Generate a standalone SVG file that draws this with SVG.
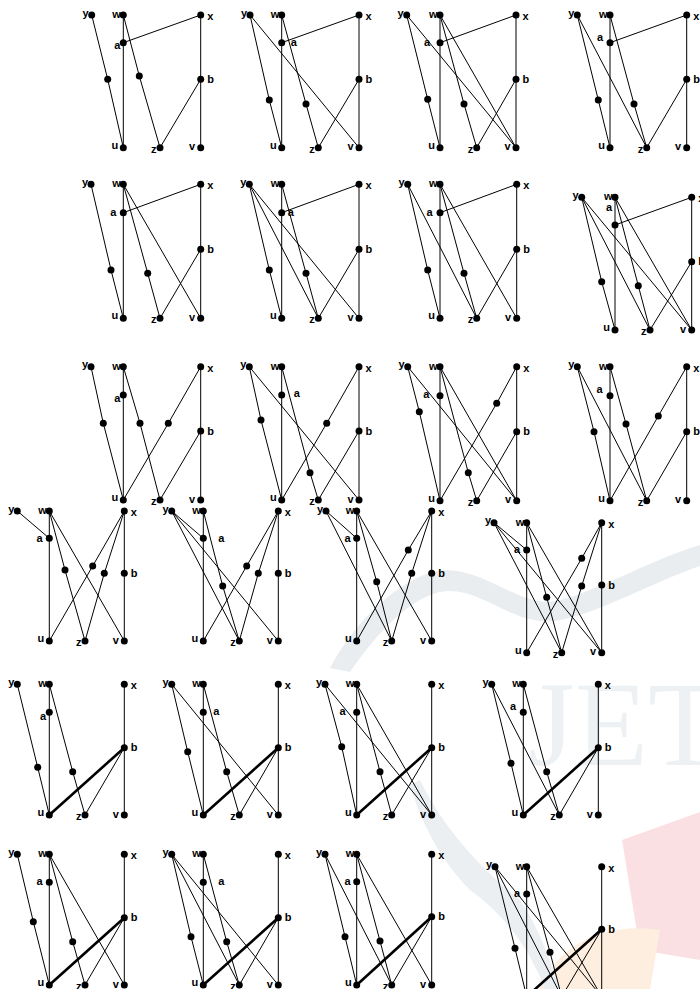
<svg xmlns="http://www.w3.org/2000/svg" width="700" height="989" viewBox="0 0 700 989">
<style>
.e{stroke:#000;stroke-width:1;fill:none}
.k{stroke:#000;stroke-width:2.6;fill:none}
circle{fill:#000}
text{font-family:"Liberation Sans",Arial,sans-serif;font-weight:bold;font-size:11px;fill:#000}
.n{text-anchor:end}
.s{text-anchor:start}
</style>
<rect width="700" height="989" fill="#fff"/>
<g id="watermark">
<path d="M330,668 C350,630 390,585 432,572 C480,560 520,612 560,600 C600,590 650,560 700,545 L700,566 C650,583 600,613 560,620 C515,630 480,584 440,592 C405,600 372,640 350,672 Z" fill="#e9edf0"/>
<text x="528" y="765" style="font-family:'Liberation Serif',serif;font-weight:normal;font-size:120px;fill:#eef1f3">JET</text>
<path d="M622,840 L700,812 L700,960 L640,950 Z" fill="#fbe0e3"/>
<path d="M540,989 C560,940 610,922 660,930 L650,989 Z" fill="#fdeedf"/>
<path d="M420,780 C440,820 470,860 520,900 C540,930 550,960 560,989 L545,989 C530,950 505,915 470,890 C440,860 420,820 410,785 Z" fill="#eceff2"/>
</g>
<g id="connectors">
<g id="e1"><path class="e" d="M91.7,15L107.7,79.3L123.3,147.7M123.3,15V147.7M123.3,42.7L200.7,15M123.3,15L139.3,76L160,147.7M200.7,15V147.7M200.7,79.3L160,147.7"/></g>
<g id="e2"><path class="e" d="M250,15L269.3,100L281.7,147.7M281.7,15V147.7M281.7,42.7L359,15M281.7,15L306,104L318.3,147.7M359,15V147.7M359,79.3L318.3,147.7M250,15L359,147.7"/></g>
<g id="e3"><path class="e" d="M406.7,15L427.7,99.3L440,147.7M440,15V147.7M440,42.7L516,15M440,15L464,104L476.7,147.7M516,15V147.7M516,79.3L476.7,147.7M406.7,15L516,147.7M440,15L516,147.7"/></g>
<g id="e4"><path class="e" d="M577.3,15L598.3,100L610,147.7M610,15V147.7M610,42.7L686.7,15M610,15L634,104L646.7,147.7M686.7,15V147.7M686.7,79.3L646.7,147.7M577.3,15L646.7,147.7"/></g>
<g id="e5"><path class="e" d="M91,184.3L111,270L123.3,318.3M123.3,184.3V318.3M123.3,212.7L200.7,184.3M123.3,184.3L147.7,273.3L160,318.3M200.7,184.3V318.3M200.7,249.3L160,318.3M123.3,184.3L200.7,318.3"/></g>
<g id="e6"><path class="e" d="M249.3,184.3L269.3,270L281.7,318.3M281.7,184.3V318.3M281.7,212.7L359,184.3M281.7,184.3L306,273.3L318.3,318.3M359,184.3V318.3M359,249.3L318.3,318.3M249.3,184.3L318.3,318.3M249.3,184.3L359,318.3"/></g>
<g id="e7"><path class="e" d="M407.7,184.3L427.7,270L440,318.3M440,184.3V318.3M440,212.7L516.7,184.3M440,184.3L464,273.3L476.7,318.3M516.7,184.3V318.3M516.7,249.3L476.7,318.3M407.7,184.3L476.7,318.3M440,184.3L516.7,318.3"/></g>
<g id="e8"><path class="e" d="M581.7,197.3L601.7,281.7L615,330M615,197.3V330M615,225L691.7,197.3M615,197.3L638.3,285.7L650,330M691.7,197.3V330M691.7,261.7L650,330M581.7,197.3L650,330M581.7,197.3L691.7,330M615,197.3L691.7,330"/></g>
<g id="e9"><path class="e" d="M91,366.7L103.3,423.3L123.3,500M123.3,366.7V500M123.3,366.7L140,423.3L160,500M200.7,366.7V500M200.7,431L160,500M200.7,366.7L168.3,423.3L123.3,500"/></g>
<g id="e10"><path class="e" d="M249.3,366.7L261,420L281.7,500M281.7,366.7V500M281.7,366.7L310,472.7L318.3,500M359,366.7V500M359,431L318.3,500M359,366.7L326.7,423.3L281.7,500M249.3,366.7L359,500"/></g>
<g id="e11"><path class="e" d="M407.7,366.7L419.3,411.7L440,500.7M440,366.7V500.7M440,366.7L468.3,472.7L476.7,500.7M516.7,366.7V500.7M516.7,431.7L476.7,500.7M516.7,366.7L496.7,403.3L440,500.7M407.7,366.7L516.7,500.7M440,366.7L516.7,500.7"/></g>
<g id="e12"><path class="e" d="M577.3,366.7L594,431.7L610,500.7M610,366.7V500.7M610,366.7L626,424L646.7,500.7M686.7,366.7V500.7M686.7,431.7L646.7,500.7M686.7,366.7L658.3,416L610,500.7M577.3,366.7L646.7,500.7"/></g>
<g id="e13"><path class="e" d="M17.3,511L49.3,538.3M49.3,511V641M49.3,511L65,570L85,641M49.3,511L124.3,641M124.3,511L92.7,566L49.3,641M124.3,511L104.3,573.3L85,641M124.3,511V641"/></g>
<g id="e14"><path class="e" d="M171.7,511L203.3,538.3M171.7,511L239.3,641M171.7,511L278.3,641M203.3,511V641M203.3,511L222.7,586L239.3,641M278.3,511L246.7,566L203.3,641M278.3,511L258.3,573.3L239.3,641M278.3,511V641"/></g>
<g id="e15"><path class="e" d="M326,511L356.7,538.3M326,511L391.7,641M356.7,511V641M356.7,511L376.7,581.7L391.7,641M356.7,511L431.7,641M431.7,511L408.3,550L356.7,641M431.7,511L411.7,573.3L391.7,641M431.7,511V641"/></g>
<g id="e16"><path class="e" d="M494,522.7L526.7,550M494,522.7L561.7,652.7M494,522.7L601.7,652.7M526.7,522.7V652.7M526.7,522.7L546.7,597.3L561.7,652.7M526.7,522.7L601.7,652.7M601.7,522.7L581.7,558.3L526.7,652.7M601.7,522.7L581.7,586L561.7,652.7M601.7,522.7V652.7"/></g>
<g id="e17"><path class="e" d="M17.3,684.3L37.7,767.3L49.3,815M49.3,684.3V815M49.3,684.3L72.7,771.7L85,815M124.3,684.3V815M124.3,747.7L85,815"/><path class="k" d="M49.3,815L124.3,747.7"/></g>
<g id="e18"><path class="e" d="M171.7,684.3L187.7,751.7L203.3,815M203.3,684.3V815M203.3,684.3L226.7,771.7L239.3,815M278.3,684.3V815M278.3,747.7L239.3,815M171.7,684.3L278.3,815"/><path class="k" d="M203.3,815L278.3,747.7"/></g>
<g id="e19"><path class="e" d="M325,684.3L341.7,746.7L356.7,815M356.7,684.3V815M356.7,684.3L380,771.7L391.7,815M431.7,684.3V815M431.7,747.7L391.7,815M325,684.3L431.7,815M356.7,684.3L431.7,815"/><path class="k" d="M356.7,815L431.7,747.7"/></g>
<g id="e20"><path class="e" d="M491.7,684.3L511,763.3L523.3,815M523.3,684.3V815M523.3,684.3L546.7,771.7L559.3,815M598.3,684.3V815M598.3,747.7L559.3,815M491.7,684.3L559.3,815"/><path class="k" d="M523.3,815L598.3,747.7"/></g>
<g id="e21"><path class="e" d="M17.3,854.3L33.3,921.7L49.3,985M49.3,854.3V985M49.3,854.3L72.7,941.7L85,985M124.3,854.3V985M124.3,917.7L85,985M49.3,854.3L124.3,985"/><path class="k" d="M49.3,985L124.3,917.7"/></g>
<g id="e22"><path class="e" d="M171.7,854.3L191,936.7L203.3,985M203.3,854.3V985M203.3,854.3L226.7,941.7L239.3,985M278.3,854.3V985M278.3,917.7L239.3,985M171.7,854.3L239.3,985M171.7,854.3L278.3,985"/><path class="k" d="M203.3,985L278.3,917.7"/></g>
<g id="e23"><path class="e" d="M325,854.3L345,936.7L356.7,985M356.7,854.3V985M356.7,854.3L380,941L391.7,985M431.7,854.3V985M431.7,916.7L391.7,985M325,854.3L391.7,985M356.7,854.3L431.7,985"/><path class="k" d="M356.7,985L431.7,916.7"/></g>
<g id="e24"><path class="e" d="M495,866.7L515,948.3L526.7,996.7M526.7,866.7V996.7M526.7,866.7L550,952.3L561.7,996.7M601.7,866.7V996.7M601.7,929.3L561.7,996.7M495,866.7L561.7,996.7M495,866.7L601.7,996.7M526.7,866.7L601.7,996.7"/><path class="k" d="M526.7,996.7L601.7,929.3"/></g>
</g>
<g id="nodes">
<g id="g1">
<g id="g1-y"><circle cx="91.7" cy="15" r="3.5"/><text class="n" x="88.7" y="16.5">y</text></g>
<g id="g1-w"><circle cx="123.3" cy="15" r="3.5"/><text class="n" x="120.8" y="18">w</text></g>
<g id="g1-x"><circle cx="200.7" cy="15" r="3.5"/><text class="s" x="207.2" y="20">x</text></g>
<g id="g1-a"><circle cx="123.3" cy="42.7" r="3.5"/><text class="n" x="120.3" y="48.7">a</text></g>
<g id="g1-b"><circle cx="200.7" cy="79.3" r="3.5"/><text class="s" x="207.2" y="82.8">b</text></g>
<g id="g1-u"><circle cx="123.3" cy="147.7" r="3.5"/><text class="n" x="118.3" y="148.7">u</text></g>
<g id="g1-z"><circle cx="160" cy="147.7" r="3.5"/><text class="n" x="156.5" y="152.7">z</text></g>
<g id="g1-v"><circle cx="200.7" cy="147.7" r="3.5"/><text class="n" x="195.2" y="150.2">v</text></g>
<g id="g1-s1"><circle cx="107.7" cy="79.3" r="3.5"/></g>
<g id="g1-s2"><circle cx="139.3" cy="76" r="3.5"/></g>
</g>
<g id="g2">
<g id="g2-y"><circle cx="250" cy="15" r="3.5"/><text class="n" x="247" y="16.5">y</text></g>
<g id="g2-w"><circle cx="281.7" cy="15" r="3.5"/><text class="n" x="279.2" y="18">w</text></g>
<g id="g2-x"><circle cx="359" cy="15" r="3.5"/><text class="s" x="365.5" y="20">x</text></g>
<g id="g2-a"><circle cx="281.7" cy="42.7" r="3.5"/><text class="s" x="290.7" y="45.7">a</text></g>
<g id="g2-b"><circle cx="359" cy="79.3" r="3.5"/><text class="s" x="365.5" y="82.8">b</text></g>
<g id="g2-u"><circle cx="281.7" cy="147.7" r="3.5"/><text class="n" x="276.7" y="148.7">u</text></g>
<g id="g2-z"><circle cx="318.3" cy="147.7" r="3.5"/><text class="n" x="314.8" y="152.7">z</text></g>
<g id="g2-v"><circle cx="359" cy="147.7" r="3.5"/><text class="n" x="353.5" y="150.2">v</text></g>
<g id="g2-s1"><circle cx="269.3" cy="100" r="3.5"/></g>
<g id="g2-s2"><circle cx="306" cy="104" r="3.5"/></g>
</g>
<g id="g3">
<g id="g3-y"><circle cx="406.7" cy="15" r="3.5"/><text class="n" x="403.7" y="16.5">y</text></g>
<g id="g3-w"><circle cx="440" cy="15" r="3.5"/><text class="n" x="437.5" y="18">w</text></g>
<g id="g3-x"><circle cx="516" cy="15" r="3.5"/><text class="s" x="522.5" y="20">x</text></g>
<g id="g3-a"><circle cx="440" cy="42.7" r="3.5"/><text class="n" x="430" y="45.7">a</text></g>
<g id="g3-b"><circle cx="516" cy="79.3" r="3.5"/><text class="s" x="522.5" y="82.8">b</text></g>
<g id="g3-u"><circle cx="440" cy="147.7" r="3.5"/><text class="n" x="435" y="148.7">u</text></g>
<g id="g3-z"><circle cx="476.7" cy="147.7" r="3.5"/><text class="n" x="473.2" y="152.7">z</text></g>
<g id="g3-v"><circle cx="516" cy="147.7" r="3.5"/><text class="n" x="510.5" y="150.2">v</text></g>
<g id="g3-s1"><circle cx="427.7" cy="99.3" r="3.5"/></g>
<g id="g3-s2"><circle cx="464" cy="104" r="3.5"/></g>
</g>
<g id="g4">
<g id="g4-y"><circle cx="577.3" cy="15" r="3.5"/><text class="n" x="574.3" y="16.5">y</text></g>
<g id="g4-w"><circle cx="610" cy="15" r="3.5"/><text class="n" x="607.5" y="18">w</text></g>
<g id="g4-x"><circle cx="686.7" cy="15" r="3.5"/><text class="s" x="693.2" y="20">x</text></g>
<g id="g4-a"><circle cx="610" cy="42.7" r="3.5"/><text class="n" x="603" y="40.7">a</text></g>
<g id="g4-b"><circle cx="686.7" cy="79.3" r="3.5"/><text class="s" x="693.2" y="82.8">b</text></g>
<g id="g4-u"><circle cx="610" cy="147.7" r="3.5"/><text class="n" x="605" y="148.7">u</text></g>
<g id="g4-z"><circle cx="646.7" cy="147.7" r="3.5"/><text class="n" x="643.2" y="152.7">z</text></g>
<g id="g4-v"><circle cx="686.7" cy="147.7" r="3.5"/><text class="n" x="681.2" y="150.2">v</text></g>
<g id="g4-s1"><circle cx="598.3" cy="100" r="3.5"/></g>
<g id="g4-s2"><circle cx="634" cy="104" r="3.5"/></g>
</g>
<g id="g5">
<g id="g5-y"><circle cx="91" cy="184.3" r="3.5"/><text class="n" x="88" y="185.8">y</text></g>
<g id="g5-w"><circle cx="123.3" cy="184.3" r="3.5"/><text class="n" x="120.8" y="187.3">w</text></g>
<g id="g5-x"><circle cx="200.7" cy="184.3" r="3.5"/><text class="s" x="207.2" y="189.3">x</text></g>
<g id="g5-a"><circle cx="123.3" cy="212.7" r="3.5"/><text class="n" x="116.3" y="215.7">a</text></g>
<g id="g5-b"><circle cx="200.7" cy="249.3" r="3.5"/><text class="s" x="207.2" y="252.8">b</text></g>
<g id="g5-u"><circle cx="123.3" cy="318.3" r="3.5"/><text class="n" x="118.3" y="319.3">u</text></g>
<g id="g5-z"><circle cx="160" cy="318.3" r="3.5"/><text class="n" x="156.5" y="323.3">z</text></g>
<g id="g5-v"><circle cx="200.7" cy="318.3" r="3.5"/><text class="n" x="195.2" y="320.8">v</text></g>
<g id="g5-s1"><circle cx="111" cy="270" r="3.5"/></g>
<g id="g5-s2"><circle cx="147.7" cy="273.3" r="3.5"/></g>
</g>
<g id="g6">
<g id="g6-y"><circle cx="249.3" cy="184.3" r="3.5"/><text class="n" x="246.3" y="185.8">y</text></g>
<g id="g6-w"><circle cx="281.7" cy="184.3" r="3.5"/><text class="n" x="279.2" y="187.3">w</text></g>
<g id="g6-x"><circle cx="359" cy="184.3" r="3.5"/><text class="s" x="365.5" y="189.3">x</text></g>
<g id="g6-a"><circle cx="281.7" cy="212.7" r="3.5"/><text class="s" x="287.7" y="215.7">a</text></g>
<g id="g6-b"><circle cx="359" cy="249.3" r="3.5"/><text class="s" x="365.5" y="252.8">b</text></g>
<g id="g6-u"><circle cx="281.7" cy="318.3" r="3.5"/><text class="n" x="276.7" y="319.3">u</text></g>
<g id="g6-z"><circle cx="318.3" cy="318.3" r="3.5"/><text class="n" x="314.8" y="323.3">z</text></g>
<g id="g6-v"><circle cx="359" cy="318.3" r="3.5"/><text class="n" x="353.5" y="320.8">v</text></g>
<g id="g6-s1"><circle cx="269.3" cy="270" r="3.5"/></g>
<g id="g6-s2"><circle cx="306" cy="273.3" r="3.5"/></g>
</g>
<g id="g7">
<g id="g7-y"><circle cx="407.7" cy="184.3" r="3.5"/><text class="n" x="404.7" y="185.8">y</text></g>
<g id="g7-w"><circle cx="440" cy="184.3" r="3.5"/><text class="n" x="437.5" y="187.3">w</text></g>
<g id="g7-x"><circle cx="516.7" cy="184.3" r="3.5"/><text class="s" x="523.2" y="189.3">x</text></g>
<g id="g7-a"><circle cx="440" cy="212.7" r="3.5"/><text class="n" x="432.5" y="215.7">a</text></g>
<g id="g7-b"><circle cx="516.7" cy="249.3" r="3.5"/><text class="s" x="523.2" y="252.8">b</text></g>
<g id="g7-u"><circle cx="440" cy="318.3" r="3.5"/><text class="n" x="435" y="319.3">u</text></g>
<g id="g7-z"><circle cx="476.7" cy="318.3" r="3.5"/><text class="n" x="473.2" y="323.3">z</text></g>
<g id="g7-v"><circle cx="516.7" cy="318.3" r="3.5"/><text class="n" x="511.2" y="320.8">v</text></g>
<g id="g7-s1"><circle cx="427.7" cy="270" r="3.5"/></g>
<g id="g7-s2"><circle cx="464" cy="273.3" r="3.5"/></g>
</g>
<g id="g8">
<g id="g8-y"><circle cx="581.7" cy="197.3" r="3.5"/><text class="n" x="578.7" y="198.8">y</text></g>
<g id="g8-w"><circle cx="615" cy="197.3" r="3.5"/><text class="n" x="612.5" y="200.3">w</text></g>
<g id="g8-x"><circle cx="691.7" cy="197.3" r="3.5"/><text class="s" x="698.2" y="202.3">x</text></g>
<g id="g8-a"><circle cx="615" cy="225" r="3.5"/><text class="n" x="612" y="211">a</text></g>
<g id="g8-b"><circle cx="691.7" cy="261.7" r="3.5"/><text class="s" x="698.2" y="265.2">b</text></g>
<g id="g8-u"><circle cx="615" cy="330" r="3.5"/><text class="n" x="610" y="331">u</text></g>
<g id="g8-z"><circle cx="650" cy="330" r="3.5"/><text class="n" x="646.5" y="335">z</text></g>
<g id="g8-v"><circle cx="691.7" cy="330" r="3.5"/><text class="n" x="686.2" y="332.5">v</text></g>
<g id="g8-s1"><circle cx="601.7" cy="281.7" r="3.5"/></g>
<g id="g8-s2"><circle cx="638.3" cy="285.7" r="3.5"/></g>
</g>
<g id="g9">
<g id="g9-y"><circle cx="91" cy="366.7" r="3.5"/><text class="n" x="88" y="368.2">y</text></g>
<g id="g9-w"><circle cx="123.3" cy="366.7" r="3.5"/><text class="n" x="120.8" y="369.7">w</text></g>
<g id="g9-x"><circle cx="200.7" cy="366.7" r="3.5"/><text class="s" x="207.2" y="371.7">x</text></g>
<g id="g9-a"><circle cx="123.3" cy="395" r="3.5"/><text class="n" x="120.3" y="402">a</text></g>
<g id="g9-b"><circle cx="200.7" cy="431" r="3.5"/><text class="s" x="207.2" y="434.5">b</text></g>
<g id="g9-u"><circle cx="123.3" cy="500" r="3.5"/><text class="n" x="118.3" y="501">u</text></g>
<g id="g9-z"><circle cx="160" cy="500" r="3.5"/><text class="n" x="156.5" y="505">z</text></g>
<g id="g9-v"><circle cx="200.7" cy="500" r="3.5"/><text class="n" x="195.2" y="502.5">v</text></g>
<g id="g9-s1"><circle cx="103.3" cy="423.3" r="3.5"/></g>
<g id="g9-s2"><circle cx="140" cy="423.3" r="3.5"/></g>
<g id="g9-s3"><circle cx="168.3" cy="423.3" r="3.5"/></g>
</g>
<g id="g10">
<g id="g10-y"><circle cx="249.3" cy="366.7" r="3.5"/><text class="n" x="246.3" y="368.2">y</text></g>
<g id="g10-w"><circle cx="281.7" cy="366.7" r="3.5"/><text class="n" x="279.2" y="369.7">w</text></g>
<g id="g10-x"><circle cx="359" cy="366.7" r="3.5"/><text class="s" x="365.5" y="371.7">x</text></g>
<g id="g10-a"><circle cx="281.7" cy="395" r="3.5"/><text class="s" x="293.7" y="397">a</text></g>
<g id="g10-b"><circle cx="359" cy="431" r="3.5"/><text class="s" x="365.5" y="434.5">b</text></g>
<g id="g10-u"><circle cx="281.7" cy="500" r="3.5"/><text class="n" x="276.7" y="501">u</text></g>
<g id="g10-z"><circle cx="318.3" cy="500" r="3.5"/><text class="n" x="314.8" y="505">z</text></g>
<g id="g10-v"><circle cx="359" cy="500" r="3.5"/><text class="n" x="353.5" y="502.5">v</text></g>
<g id="g10-s1"><circle cx="261" cy="420" r="3.5"/></g>
<g id="g10-s2"><circle cx="310" cy="472.7" r="3.5"/></g>
<g id="g10-s3"><circle cx="326.7" cy="423.3" r="3.5"/></g>
</g>
<g id="g11">
<g id="g11-y"><circle cx="407.7" cy="366.7" r="3.5"/><text class="n" x="404.7" y="368.2">y</text></g>
<g id="g11-w"><circle cx="440" cy="366.7" r="3.5"/><text class="n" x="437.5" y="369.7">w</text></g>
<g id="g11-x"><circle cx="516.7" cy="366.7" r="3.5"/><text class="s" x="523.2" y="371.7">x</text></g>
<g id="g11-a"><circle cx="440" cy="395.7" r="3.5"/><text class="n" x="429.3" y="397.7">a</text></g>
<g id="g11-b"><circle cx="516.7" cy="431.7" r="3.5"/><text class="s" x="523.2" y="435.2">b</text></g>
<g id="g11-u"><circle cx="440" cy="500.7" r="3.5"/><text class="n" x="435" y="501.7">u</text></g>
<g id="g11-z"><circle cx="476.7" cy="500.7" r="3.5"/><text class="n" x="473.2" y="505.7">z</text></g>
<g id="g11-v"><circle cx="516.7" cy="500.7" r="3.5"/><text class="n" x="511.2" y="503.2">v</text></g>
<g id="g11-s1"><circle cx="419.3" cy="411.7" r="3.5"/></g>
<g id="g11-s2"><circle cx="468.3" cy="472.7" r="3.5"/></g>
<g id="g11-s3"><circle cx="496.7" cy="403.3" r="3.5"/></g>
</g>
<g id="g12">
<g id="g12-y"><circle cx="577.3" cy="366.7" r="3.5"/><text class="n" x="574.3" y="368.2">y</text></g>
<g id="g12-w"><circle cx="610" cy="366.7" r="3.5"/><text class="n" x="607.5" y="369.7">w</text></g>
<g id="g12-x"><circle cx="686.7" cy="366.7" r="3.5"/><text class="s" x="693.2" y="371.7">x</text></g>
<g id="g12-a"><circle cx="610" cy="395.7" r="3.5"/><text class="n" x="602.7" y="393.4">a</text></g>
<g id="g12-b"><circle cx="686.7" cy="431.7" r="3.5"/><text class="s" x="693.2" y="435.2">b</text></g>
<g id="g12-u"><circle cx="610" cy="500.7" r="3.5"/><text class="n" x="605" y="501.7">u</text></g>
<g id="g12-z"><circle cx="646.7" cy="500.7" r="3.5"/><text class="n" x="643.2" y="505.7">z</text></g>
<g id="g12-v"><circle cx="686.7" cy="500.7" r="3.5"/><text class="n" x="681.2" y="503.2">v</text></g>
<g id="g12-s1"><circle cx="594" cy="431.7" r="3.5"/></g>
<g id="g12-s2"><circle cx="626" cy="424" r="3.5"/></g>
<g id="g12-s3"><circle cx="658.3" cy="416" r="3.5"/></g>
</g>
<g id="g13">
<g id="g13-y"><circle cx="17.3" cy="511" r="3.5"/><text class="n" x="14.3" y="512.5">y</text></g>
<g id="g13-w"><circle cx="49.3" cy="511" r="3.5"/><text class="n" x="46.8" y="514">w</text></g>
<g id="g13-x"><circle cx="124.3" cy="511" r="3.5"/><text class="s" x="130.8" y="516">x</text></g>
<g id="g13-a"><circle cx="49.3" cy="538.3" r="3.5"/><text class="n" x="42.6" y="541.6">a</text></g>
<g id="g13-b"><circle cx="124.3" cy="573.3" r="3.5"/><text class="s" x="130.8" y="576.8">b</text></g>
<g id="g13-u"><circle cx="49.3" cy="641" r="3.5"/><text class="n" x="44.3" y="642">u</text></g>
<g id="g13-z"><circle cx="85" cy="641" r="3.5"/><text class="n" x="81.5" y="646">z</text></g>
<g id="g13-v"><circle cx="124.3" cy="641" r="3.5"/><text class="n" x="118.8" y="643.5">v</text></g>
<g id="g13-s2"><circle cx="65" cy="570" r="3.5"/></g>
<g id="g13-s3"><circle cx="92.7" cy="566" r="3.5"/></g>
<g id="g13-s4"><circle cx="104.3" cy="573.3" r="3.5"/></g>
</g>
<g id="g14">
<g id="g14-y"><circle cx="171.7" cy="511" r="3.5"/><text class="n" x="168.7" y="512.5">y</text></g>
<g id="g14-w"><circle cx="203.3" cy="511" r="3.5"/><text class="n" x="200.8" y="514">w</text></g>
<g id="g14-x"><circle cx="278.3" cy="511" r="3.5"/><text class="s" x="284.8" y="516">x</text></g>
<g id="g14-a"><circle cx="203.3" cy="538.3" r="3.5"/><text class="s" x="218.3" y="541.6">a</text></g>
<g id="g14-b"><circle cx="278.3" cy="573.3" r="3.5"/><text class="s" x="284.8" y="576.8">b</text></g>
<g id="g14-u"><circle cx="203.3" cy="641" r="3.5"/><text class="n" x="198.3" y="642">u</text></g>
<g id="g14-z"><circle cx="239.3" cy="641" r="3.5"/><text class="n" x="235.8" y="646">z</text></g>
<g id="g14-v"><circle cx="278.3" cy="641" r="3.5"/><text class="n" x="272.8" y="643.5">v</text></g>
<g id="g14-s2"><circle cx="222.7" cy="586" r="3.5"/></g>
<g id="g14-s3"><circle cx="246.7" cy="566" r="3.5"/></g>
<g id="g14-s4"><circle cx="258.3" cy="573.3" r="3.5"/></g>
</g>
<g id="g15">
<g id="g15-y"><circle cx="326" cy="511" r="3.5"/><text class="n" x="323" y="512.5">y</text></g>
<g id="g15-w"><circle cx="356.7" cy="511" r="3.5"/><text class="n" x="354.2" y="514">w</text></g>
<g id="g15-x"><circle cx="431.7" cy="511" r="3.5"/><text class="s" x="438.2" y="516">x</text></g>
<g id="g15-a"><circle cx="356.7" cy="538.3" r="3.5"/><text class="n" x="350.7" y="541.6">a</text></g>
<g id="g15-b"><circle cx="431.7" cy="573.3" r="3.5"/><text class="s" x="438.2" y="576.8">b</text></g>
<g id="g15-u"><circle cx="356.7" cy="641" r="3.5"/><text class="n" x="351.7" y="642">u</text></g>
<g id="g15-z"><circle cx="391.7" cy="641" r="3.5"/><text class="n" x="388.2" y="646">z</text></g>
<g id="g15-v"><circle cx="431.7" cy="641" r="3.5"/><text class="n" x="426.2" y="643.5">v</text></g>
<g id="g15-s2"><circle cx="376.7" cy="581.7" r="3.5"/></g>
<g id="g15-s3"><circle cx="408.3" cy="550" r="3.5"/></g>
<g id="g15-s4"><circle cx="411.7" cy="573.3" r="3.5"/></g>
</g>
<g id="g16">
<g id="g16-y"><circle cx="494" cy="522.7" r="3.5"/><text class="n" x="491" y="524.2">y</text></g>
<g id="g16-w"><circle cx="526.7" cy="522.7" r="3.5"/><text class="n" x="524.2" y="525.7">w</text></g>
<g id="g16-x"><circle cx="601.7" cy="522.7" r="3.5"/><text class="s" x="608.2" y="527.7">x</text></g>
<g id="g16-a"><circle cx="526.7" cy="550" r="3.5"/><text class="n" x="520" y="553.3">a</text></g>
<g id="g16-b"><circle cx="601.7" cy="585" r="3.5"/><text class="s" x="608.2" y="588.5">b</text></g>
<g id="g16-u"><circle cx="526.7" cy="652.7" r="3.5"/><text class="n" x="521.7" y="653.7">u</text></g>
<g id="g16-z"><circle cx="561.7" cy="652.7" r="3.5"/><text class="n" x="558.2" y="657.7">z</text></g>
<g id="g16-v"><circle cx="601.7" cy="652.7" r="3.5"/><text class="n" x="596.2" y="655.2">v</text></g>
<g id="g16-s2"><circle cx="546.7" cy="597.3" r="3.5"/></g>
<g id="g16-s3"><circle cx="581.7" cy="558.3" r="3.5"/></g>
<g id="g16-s4"><circle cx="581.7" cy="586" r="3.5"/></g>
</g>
<g id="g17">
<g id="g17-y"><circle cx="17.3" cy="684.3" r="3.5"/><text class="n" x="14.3" y="685.8">y</text></g>
<g id="g17-w"><circle cx="49.3" cy="684.3" r="3.5"/><text class="n" x="46.8" y="687.3">w</text></g>
<g id="g17-x"><circle cx="124.3" cy="684.3" r="3.5"/><text class="s" x="130.8" y="689.3">x</text></g>
<g id="g17-a"><circle cx="49.3" cy="712.3" r="3.5"/><text class="n" x="46" y="720">a</text></g>
<g id="g17-b"><circle cx="124.3" cy="747.7" r="3.5"/><text class="s" x="130.8" y="751.2">b</text></g>
<g id="g17-u"><circle cx="49.3" cy="815" r="3.5"/><text class="n" x="44.3" y="816">u</text></g>
<g id="g17-z"><circle cx="85" cy="815" r="3.5"/><text class="n" x="81.5" y="820">z</text></g>
<g id="g17-v"><circle cx="124.3" cy="815" r="3.5"/><text class="n" x="118.8" y="817.5">v</text></g>
<g id="g17-s1"><circle cx="37.7" cy="767.3" r="3.5"/></g>
<g id="g17-s2"><circle cx="72.7" cy="771.7" r="3.5"/></g>
</g>
<g id="g18">
<g id="g18-y"><circle cx="171.7" cy="684.3" r="3.5"/><text class="n" x="168.7" y="685.8">y</text></g>
<g id="g18-w"><circle cx="203.3" cy="684.3" r="3.5"/><text class="n" x="200.8" y="687.3">w</text></g>
<g id="g18-x"><circle cx="278.3" cy="684.3" r="3.5"/><text class="s" x="284.8" y="689.3">x</text></g>
<g id="g18-a"><circle cx="203.3" cy="712.3" r="3.5"/><text class="s" x="213.3" y="715">a</text></g>
<g id="g18-b"><circle cx="278.3" cy="747.7" r="3.5"/><text class="s" x="284.8" y="751.2">b</text></g>
<g id="g18-u"><circle cx="203.3" cy="815" r="3.5"/><text class="n" x="198.3" y="816">u</text></g>
<g id="g18-z"><circle cx="239.3" cy="815" r="3.5"/><text class="n" x="235.8" y="820">z</text></g>
<g id="g18-v"><circle cx="278.3" cy="815" r="3.5"/><text class="n" x="272.8" y="817.5">v</text></g>
<g id="g18-s1"><circle cx="187.7" cy="751.7" r="3.5"/></g>
<g id="g18-s2"><circle cx="226.7" cy="771.7" r="3.5"/></g>
</g>
<g id="g19">
<g id="g19-y"><circle cx="325" cy="684.3" r="3.5"/><text class="n" x="322" y="685.8">y</text></g>
<g id="g19-w"><circle cx="356.7" cy="684.3" r="3.5"/><text class="n" x="354.2" y="687.3">w</text></g>
<g id="g19-x"><circle cx="431.7" cy="684.3" r="3.5"/><text class="s" x="438.2" y="689.3">x</text></g>
<g id="g19-a"><circle cx="356.7" cy="712.3" r="3.5"/><text class="n" x="345.7" y="715">a</text></g>
<g id="g19-b"><circle cx="431.7" cy="747.7" r="3.5"/><text class="s" x="438.2" y="751.2">b</text></g>
<g id="g19-u"><circle cx="356.7" cy="815" r="3.5"/><text class="n" x="351.7" y="816">u</text></g>
<g id="g19-z"><circle cx="391.7" cy="815" r="3.5"/><text class="n" x="388.2" y="820">z</text></g>
<g id="g19-v"><circle cx="431.7" cy="815" r="3.5"/><text class="n" x="426.2" y="817.5">v</text></g>
<g id="g19-s1"><circle cx="341.7" cy="746.7" r="3.5"/></g>
<g id="g19-s2"><circle cx="380" cy="771.7" r="3.5"/></g>
</g>
<g id="g20">
<g id="g20-y"><circle cx="491.7" cy="684.3" r="3.5"/><text class="n" x="488.7" y="685.8">y</text></g>
<g id="g20-w"><circle cx="523.3" cy="684.3" r="3.5"/><text class="n" x="520.8" y="687.3">w</text></g>
<g id="g20-x"><circle cx="598.3" cy="684.3" r="3.5"/><text class="s" x="604.8" y="689.3">x</text></g>
<g id="g20-a"><circle cx="523.3" cy="712.3" r="3.5"/><text class="n" x="516" y="710">a</text></g>
<g id="g20-b"><circle cx="598.3" cy="747.7" r="3.5"/><text class="s" x="604.8" y="751.2">b</text></g>
<g id="g20-u"><circle cx="523.3" cy="815" r="3.5"/><text class="n" x="518.3" y="816">u</text></g>
<g id="g20-z"><circle cx="559.3" cy="815" r="3.5"/><text class="n" x="555.8" y="820">z</text></g>
<g id="g20-v"><circle cx="598.3" cy="815" r="3.5"/><text class="n" x="592.8" y="817.5">v</text></g>
<g id="g20-s1"><circle cx="511" cy="763.3" r="3.5"/></g>
<g id="g20-s2"><circle cx="546.7" cy="771.7" r="3.5"/></g>
</g>
<g id="g21">
<g id="g21-y"><circle cx="17.3" cy="854.3" r="3.5"/><text class="n" x="14.3" y="855.8">y</text></g>
<g id="g21-w"><circle cx="49.3" cy="854.3" r="3.5"/><text class="n" x="46.8" y="857.3">w</text></g>
<g id="g21-x"><circle cx="124.3" cy="854.3" r="3.5"/><text class="s" x="130.8" y="859.3">x</text></g>
<g id="g21-a"><circle cx="49.3" cy="882.3" r="3.5"/><text class="n" x="42.6" y="885">a</text></g>
<g id="g21-b"><circle cx="124.3" cy="917.7" r="3.5"/><text class="s" x="130.8" y="921.2">b</text></g>
<g id="g21-u"><circle cx="49.3" cy="985" r="3.5"/><text class="n" x="44.3" y="986">u</text></g>
<g id="g21-z"><circle cx="85" cy="985" r="3.5"/><text class="n" x="81.5" y="990">z</text></g>
<g id="g21-v"><circle cx="124.3" cy="985" r="3.5"/><text class="n" x="118.8" y="987.5">v</text></g>
<g id="g21-s1"><circle cx="33.3" cy="921.7" r="3.5"/></g>
<g id="g21-s2"><circle cx="72.7" cy="941.7" r="3.5"/></g>
</g>
<g id="g22">
<g id="g22-y"><circle cx="171.7" cy="854.3" r="3.5"/><text class="n" x="168.7" y="855.8">y</text></g>
<g id="g22-w"><circle cx="203.3" cy="854.3" r="3.5"/><text class="n" x="200.8" y="857.3">w</text></g>
<g id="g22-x"><circle cx="278.3" cy="854.3" r="3.5"/><text class="s" x="284.8" y="859.3">x</text></g>
<g id="g22-a"><circle cx="203.3" cy="882.3" r="3.5"/><text class="s" x="218.3" y="885">a</text></g>
<g id="g22-b"><circle cx="278.3" cy="917.7" r="3.5"/><text class="s" x="284.8" y="921.2">b</text></g>
<g id="g22-u"><circle cx="203.3" cy="985" r="3.5"/><text class="n" x="198.3" y="986">u</text></g>
<g id="g22-z"><circle cx="239.3" cy="985" r="3.5"/><text class="n" x="235.8" y="990">z</text></g>
<g id="g22-v"><circle cx="278.3" cy="985" r="3.5"/><text class="n" x="272.8" y="987.5">v</text></g>
<g id="g22-s1"><circle cx="191" cy="936.7" r="3.5"/></g>
<g id="g22-s2"><circle cx="226.7" cy="941.7" r="3.5"/></g>
</g>
<g id="g23">
<g id="g23-y"><circle cx="325" cy="854.3" r="3.5"/><text class="n" x="322" y="855.8">y</text></g>
<g id="g23-w"><circle cx="356.7" cy="854.3" r="3.5"/><text class="n" x="354.2" y="857.3">w</text></g>
<g id="g23-x"><circle cx="431.7" cy="854.3" r="3.5"/><text class="s" x="438.2" y="859.3">x</text></g>
<g id="g23-a"><circle cx="356.7" cy="881.7" r="3.5"/><text class="n" x="350.7" y="885">a</text></g>
<g id="g23-b"><circle cx="431.7" cy="916.7" r="3.5"/><text class="s" x="438.2" y="920.2">b</text></g>
<g id="g23-u"><circle cx="356.7" cy="985" r="3.5"/><text class="n" x="351.7" y="986">u</text></g>
<g id="g23-z"><circle cx="391.7" cy="985" r="3.5"/><text class="n" x="388.2" y="990">z</text></g>
<g id="g23-v"><circle cx="431.7" cy="985" r="3.5"/><text class="n" x="426.2" y="987.5">v</text></g>
<g id="g23-s1"><circle cx="345" cy="936.7" r="3.5"/></g>
<g id="g23-s2"><circle cx="380" cy="941" r="3.5"/></g>
</g>
<g id="g24">
<g id="g24-y"><circle cx="495" cy="866.7" r="3.5"/><text class="n" x="492" y="868.2">y</text></g>
<g id="g24-w"><circle cx="526.7" cy="866.7" r="3.5"/><text class="n" x="524.2" y="869.7">w</text></g>
<g id="g24-x"><circle cx="601.7" cy="866.7" r="3.5"/><text class="s" x="608.2" y="871.7">x</text></g>
<g id="g24-a"><circle cx="526.7" cy="894" r="3.5"/><text class="n" x="520" y="896.7">a</text></g>
<g id="g24-b"><circle cx="601.7" cy="929.3" r="3.5"/><text class="s" x="608.2" y="932.8">b</text></g>
<g id="g24-s1"><circle cx="515" cy="948.3" r="3.5"/></g>
<g id="g24-s2"><circle cx="550" cy="952.3" r="3.5"/></g>
</g>
</g>
</svg>
